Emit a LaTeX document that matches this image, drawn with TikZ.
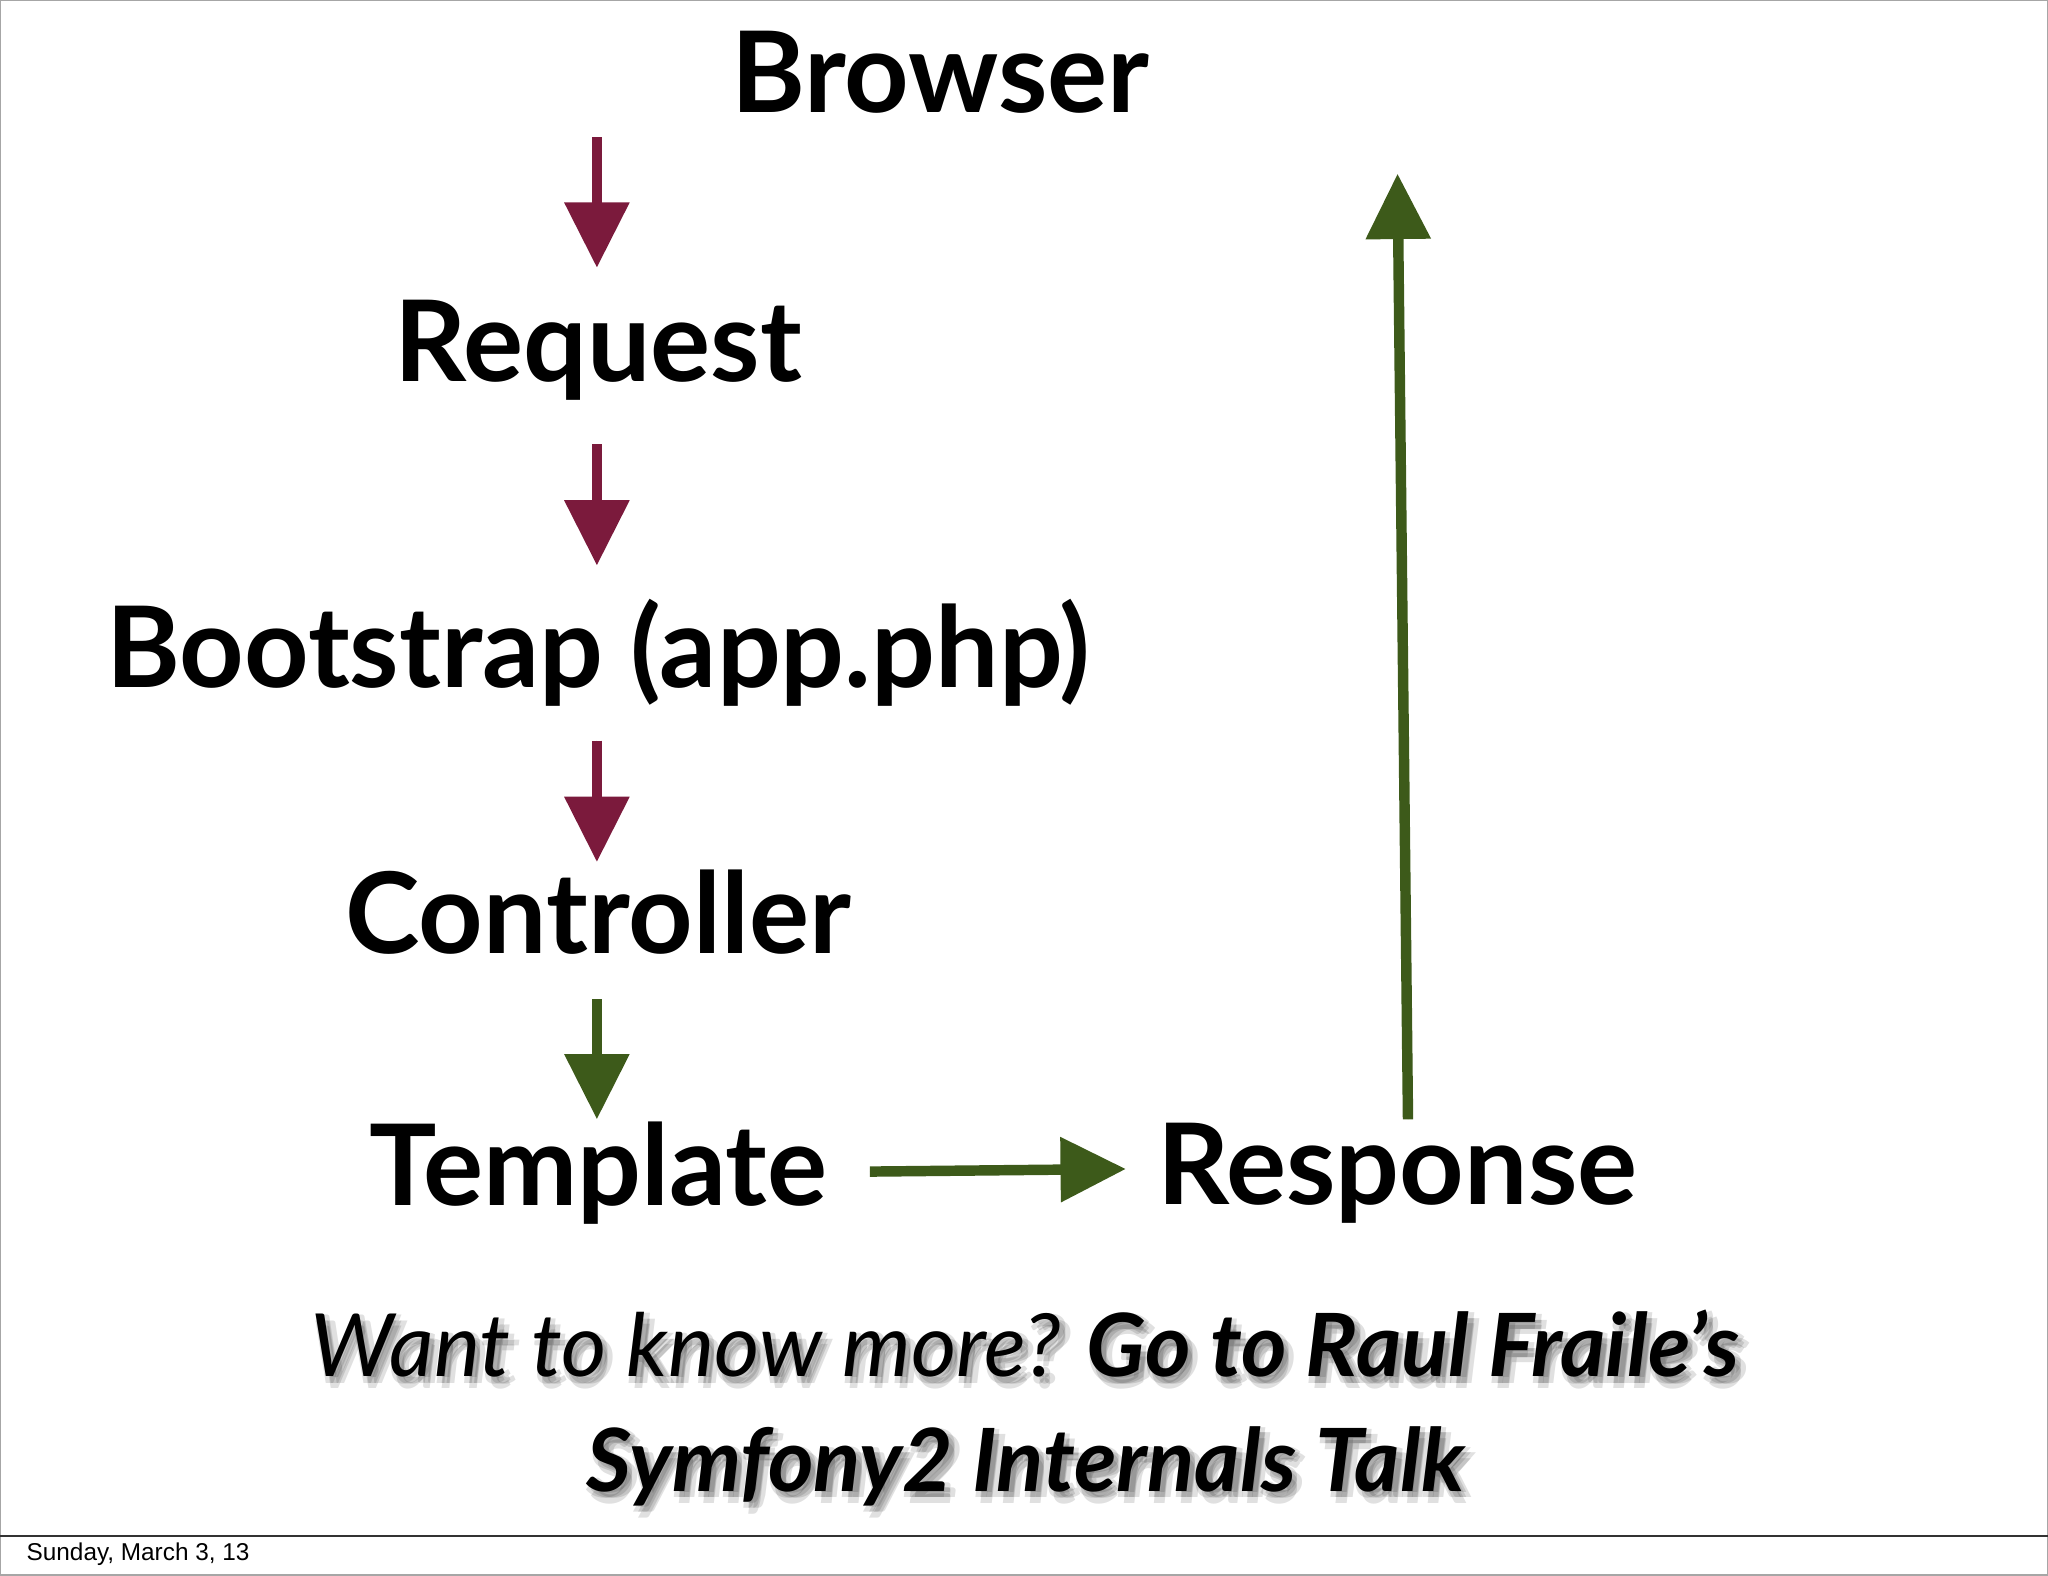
\documentclass[tikz,border=0pt]{standalone}
\usepackage{fontspec}
\setmainfont{Lato}
\newfontfamily\footfont{Liberation Sans}
\usetikzlibrary{arrows.meta}
\definecolor{req}{HTML}{7B1A3C}
\definecolor{resp}{HTML}{3D5A1A}
\tikzset{
 lbl/.style={font=\fontsize{24.5}{29}\selectfont\bfseries, text=black},
 arr/.style={line width=0.08cm, -{Triangle[width=0.48cm,length=0.5cm]}},
 redarr/.style={arr, draw=req, fill=req},
 grnarr/.style={arr, draw=resp, fill=resp},
 talk/.style={font=\fontsize{19}{23}\selectfont\itshape\bfseries, align=center},
}
\newcommand{\talktext}{{\mdseries Want to know more?} Go to Raul Fraile’s\\[2pt] Symfony2 Internals Talk}
\begin{document}
\begin{tikzpicture}[x=0.01cm,y=-0.01cm]
\useasboundingbox (0,0) rectangle (1568,1206);
\draw[gray!70, line width=0.4pt] (0,0) rectangle (1568,1206);
\draw[black!80, line width=0.5pt] (0,1176) -- (1568,1176);
\node[lbl] (browser) at (720,55) {Browser};
\node[lbl] (request) at (458,268) {Request};
\node[lbl] (boot) at (458,500) {Bootstrap (app.php)};
\node[lbl] (ctrl) at (458,698) {Controller};
\node[lbl] (tmpl) at (458,898) {Template};
\node[lbl] (resp) at (1070,898) {Response};
\coordinate (a1) at (457,105); \coordinate (a1e) at (457,205);
\coordinate (a2) at (457,340); \coordinate (a2e) at (457,433);
\coordinate (a3) at (457,567); \coordinate (a3e) at (457,660);
\coordinate (a4) at (457,765); \coordinate (a4e) at (457,857);
\coordinate (a5) at (666,897); \coordinate (a5e) at (862,895);
\coordinate (a6) at (1078,857); \coordinate (a6e) at (1070,133);
\draw[redarr] (a1) -- (a1e);
\draw[redarr] (a2) -- (a2e);
\draw[redarr] (a3) -- (a3e);
\draw[grnarr] (a4) -- (a4e);
\draw[grnarr] (a5) -- (a5e);
\draw[grnarr] (a6) -- (a6e);
\foreach \dx/\dy in {-2/5,6/5,2/1,2/9,2/5}{
  \node[talk, text=black, opacity=0.12] at ({787+\dx},{1078+\dy}) {\talktext};
}
\node[talk] (talk) at (785,1078) {\talktext};
\node[font=\footfont\fontsize{5.3}{7}\selectfont, anchor=west] (date) at (8,1190) {Sunday, March 3, 13};
\end{tikzpicture}
\end{document}
